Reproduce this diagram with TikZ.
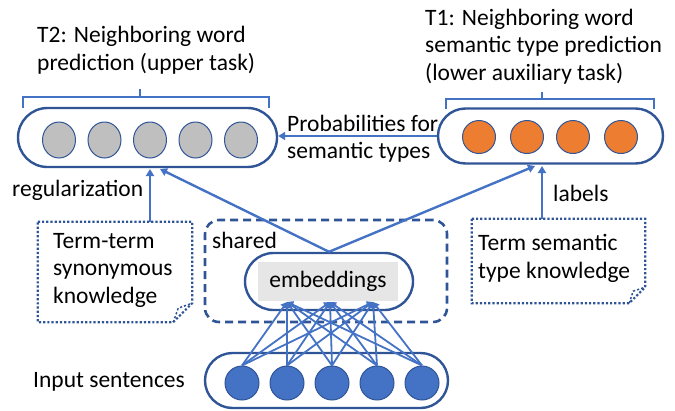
\documentclass[tikz,border=0pt]{standalone}
\usepackage{fontspec}
\setmainfont{Carlito}
\usetikzlibrary{shapes.misc,shapes.geometric,arrows.meta}
\definecolor{dblue}{HTML}{2F5597}
\definecolor{mblue}{HTML}{4472C4}
\definecolor{orng}{HTML}{ED7D31}
\definecolor{gry}{HTML}{BFBFBF}
\definecolor{lgry}{HTML}{E6E6E6}
\begin{document}
\begin{tikzpicture}[x=1pt,y=-1pt,
  txt/.style={font=\fontsize{23.5}{27.5}\selectfont, inner sep=0pt, align=left, text=black},
  capsule/.style={rounded rectangle, draw=dblue, line width=2.4pt, inner sep=0pt},
  neuron/.style={ellipse, draw=dblue, line width=1pt, inner sep=0pt},
  arr/.style={draw=mblue, line width=2.4pt, -{Triangle[length=7pt,width=8pt]}},
  arrs/.style={draw=mblue, line width=1.8pt, -{Triangle[length=6pt,width=7pt]}},
  brk/.style={draw=mblue, line width=2.2pt},
  note/.style={draw=dblue, line width=2.2pt, dotted},
  notebox/.style={rectangle, draw=none, inner sep=0pt},
]
\useasboundingbox (0,0) rectangle (675,410);

% upper task capsule
\node[capsule, minimum width=259pt, minimum height=59pt] (up) at (147.5,137.5) {};
\foreach \i/\x in {1/59,2/104.5,3/150,4/195.5,5/241}
  \node[neuron, fill=gry, minimum width=33pt, minimum height=36pt] (g\i) at (\x,140) {};

% lower task capsule
\node[capsule, minimum width=225pt, minimum height=55pt] (low) at (550.5,136) {};
\foreach \i/\x in {1/479,2/527,3/573,4/621}
  \node[neuron, fill=orng, minimum width=33pt, minimum height=33pt] (o\i) at (\x,137) {};

% brackets
\coordinate (brL) at (140,97);
\coordinate (brR) at (542,99);
\draw[brk] (23,108) -- (23,97) -- (269,97) -- (269,108);
\draw[brk] (brL) -- ++(0,-8);
\draw[brk] (446,109) -- (446,99) -- (654,99) -- (654,109);
\draw[brk] (brR) -- ++(0,-7);

% titles (base anchor = baseline of last line)
\node[txt, anchor=base west] (t2) at (37,70) {T2: Neighboring word\\prediction (upper task)};
\node[txt, anchor=base west] (t1) at (425,80) {T1: Neighboring word\\semantic type prediction\\(lower auxiliary task)};

% probabilities
\node[txt, anchor=base west] (prob) at (287,158.5) {Probabilities for\\semantic types};
\draw[arr] (low.west) -- (low.west -| up.east);

% shared box
\node[draw=dblue, line width=2.6pt, dash pattern=on 8pt off 5pt, rounded corners=14pt,
      minimum width=242pt, minimum height=102pt, inner sep=0pt] (sh) at (326,271) {};
\node[txt, anchor=base west] (shl) at (212,248) {shared};

% embeddings
\node[capsule, minimum width=168pt, minimum height=57pt] (emb) at (329,281.5) {};
\node[txt, fill=lgry, minimum width=140pt, minimum height=39pt] (embr) at (328,281.5) {embeddings};

% input
\node[capsule, minimum width=243pt, minimum height=55pt] (inp) at (326.5,380.5) {};
\foreach \i/\x in {1/242,2/287,3/332,4/377,5/422}
  \node[neuron, fill=mblue, minimum width=34pt, minimum height=34pt] (b\i) at (\x,383) {};
\node[txt, anchor=base west] (inl) at (33,387) {Input sentences};

% embedding targets
\coordinate (e1) at (287,302);
\coordinate (e2) at (330,302);
\coordinate (e3) at (373,302);
\foreach \i in {1,...,5}
  \foreach \j in {1,2,3}
    \draw[arrs] (b\i.north) -- (e\j);

% embeddings to tasks
\coordinate (upin) at (160,169);
\coordinate (lowin) at (535,166);
\draw[arr] (emb.north) -- (upin);
\draw[arr] (emb.north) -- (lowin);

% notes
\node[notebox, minimum width=154pt, minimum height=100pt] (tt) at (115,272) {};
\draw[note] (tt.north west) -- (tt.north east) -- ([yshift=19pt]tt.south east)
  -- ([xshift=-19pt]tt.south east) -- (tt.south west) -- cycle;
\draw[note, line width=1.5pt] ([xshift=-19pt]tt.south east) -- ([xshift=-14pt,yshift=14pt]tt.south east)
  -- ([yshift=19pt]tt.south east);
\node[txt, anchor=base west] (ttl) at (53,303) {Term-term\\synonymous\\knowledge};

\node[notebox, minimum width=173pt, minimum height=84pt] (ts) at (558.5,261) {};
\draw[note] (ts.north west) -- (ts.north east) -- ([yshift=16pt]ts.south east)
  -- ([xshift=-16pt]ts.south east) -- (ts.south west) -- cycle;
\draw[note, line width=1.5pt] ([xshift=-16pt]ts.south east) -- ([xshift=-12pt,yshift=12pt]ts.south east)
  -- ([yshift=16pt]ts.south east);
\node[txt, anchor=base west] (tsl) at (478,278) {Term semantic\\type knowledge};

% knowledge arrows
\draw[arr] (tt.north -| g3) -- (g3 |- upin);
\draw[arr] (ts.north -| brR) -- (brR |- lowin);
\node[txt, anchor=base west] (reg) at (12,196) {regularization};
\node[txt, anchor=base west] (lab) at (553,201) {labels};
\end{tikzpicture}
\end{document}
